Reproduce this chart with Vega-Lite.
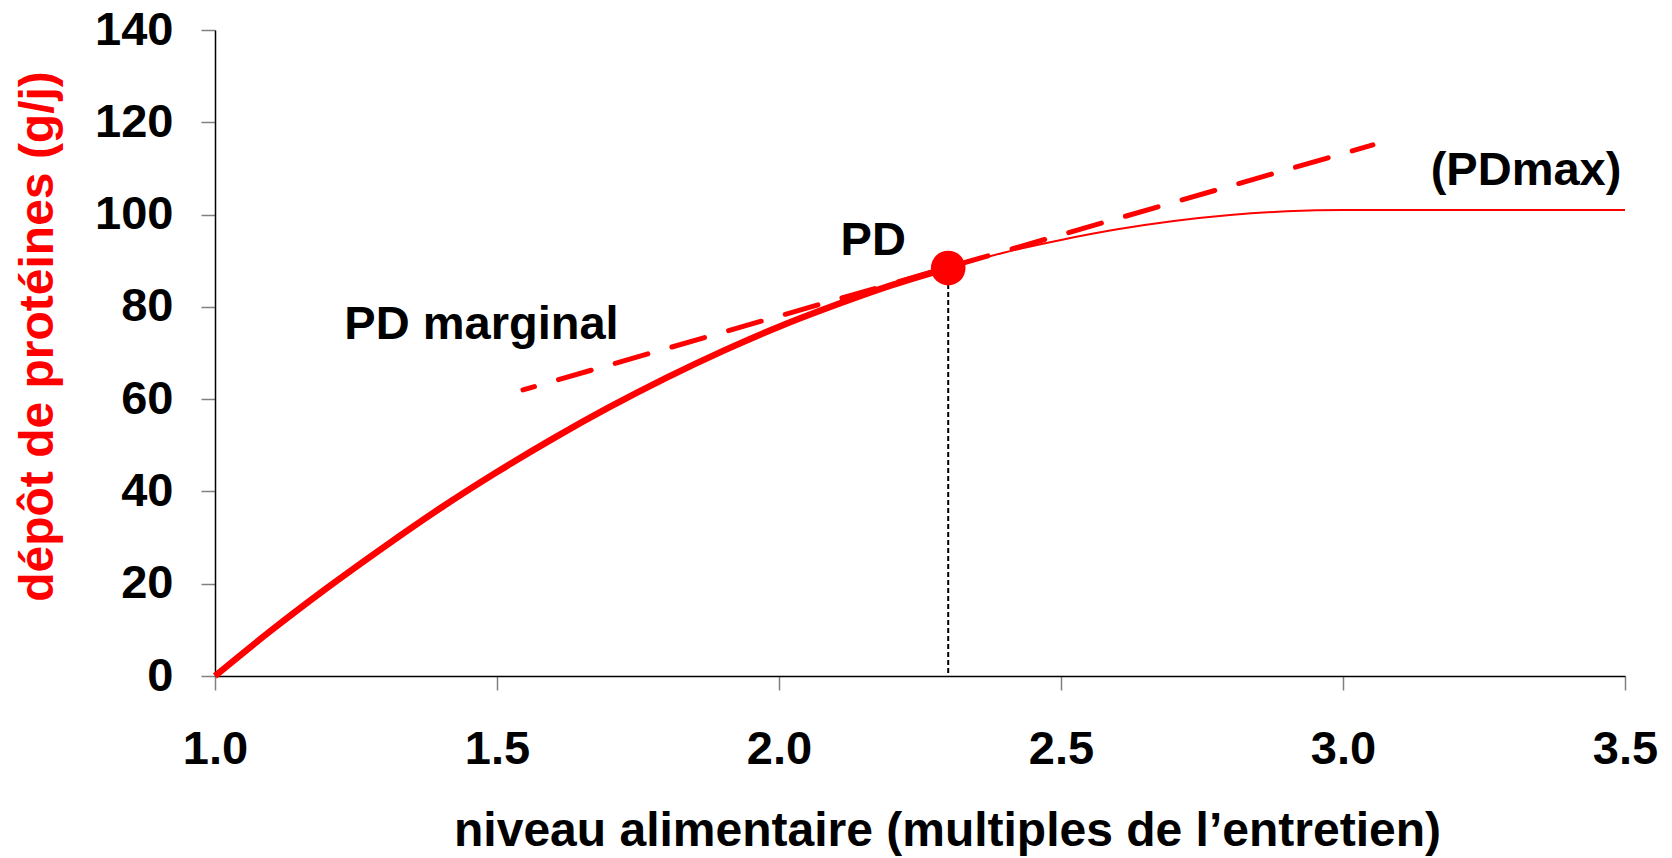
{
  "$schema": "https://vega.github.io/schema/vega-lite/v6.json",
  "autosize": {"type": "none"},
  "padding": {"left": 215, "top": 30, "right": 47, "bottom": 182},
  "width": 1410,
  "height": 646,
  "background": "white",
  "config": {
    "view": {"stroke": null},
    "font": "Liberation Sans",
    "axis": {
      "grid": false,
      "labelFlush": false,
      "labelOverlap": false,
      "domainColor": "#000000",
      "domainWidth": 1.5,
      "tickColor": "#808080",
      "tickWidth": 1.5,
      "tickSize": 14,
      "labelFont": "Liberation Sans",
      "labelFontWeight": "bold",
      "labelFontSize": 47,
      "labelColor": "#000000",
      "titleFont": "Liberation Sans",
      "titleFontWeight": "bold",
      "titleFontSize": 48
    }
  },
  "datasets": {
    "thick": [
      {"x": 1.0, "y": 0},
      {"x": 1.1, "y": 9.9},
      {"x": 1.2, "y": 19.2},
      {"x": 1.3, "y": 28.0},
      {"x": 1.4, "y": 36.4},
      {"x": 1.5, "y": 44.2},
      {"x": 1.6, "y": 51.5},
      {"x": 1.7, "y": 58.3},
      {"x": 1.8, "y": 64.6},
      {"x": 1.9, "y": 70.4},
      {"x": 2.0, "y": 75.7},
      {"x": 2.1, "y": 80.4},
      {"x": 2.2, "y": 84.7},
      {"x": 2.3, "y": 88.4}
    ],
    "thin": [
      {"x": 2.3, "y": 88.4},
      {"x": 2.4, "y": 91.8},
      {"x": 2.5, "y": 94.5},
      {"x": 2.6, "y": 96.8},
      {"x": 2.7, "y": 98.6},
      {"x": 2.8, "y": 99.9},
      {"x": 2.9, "y": 100.7},
      {"x": 3.0, "y": 101.0},
      {"x": 3.1, "y": 101.0},
      {"x": 3.5, "y": 101.0}
    ],
    "tangent": [
      {"x": 1.546, "y": 62.0},
      {"x": 3.053, "y": 115.1}
    ],
    "point": [
      {"x": 2.3, "y": 88.4, "y0": 0}
    ],
    "labels": [
      {"x": 1.4725, "y": 73.0, "label": "PD marginal"},
      {"x": 2.167, "y": 91.2, "label": "PD"},
      {"x": 3.3245, "y": 106.4, "label": "(PDmax)"}
    ]
  },
  "encoding": {
    "x": {
      "field": "x",
      "type": "quantitative",
      "scale": {"domain": [1, 3.5], "nice": false, "zero": false},
      "axis": {
        "title": "niveau alimentaire (multiples de l’entretien)",
        "values": [1, 1.5, 2, 2.5, 3, 3.5],
        "format": ".1f",
        "labelPadding": 36,
        "labelFlush": false,
        "titleColor": "#000000",
        "titleAlign": "center",
        "titleBaseline": "alphabetic",
        "titleX": 732,
        "titleY": 169
      }
    },
    "y": {
      "field": "y",
      "type": "quantitative",
      "scale": {"domain": [0, 140], "nice": false},
      "axis": {
        "title": "dépôt de protéines (g/j)",
        "values": [0, 20, 40, 60, 80, 100, 120, 140],
        "labelPadding": 28,
        "labelFlush": false,
        "titleColor": "#FF0000",
        "titleAngle": -90,
        "titleAlign": "center",
        "titleBaseline": "alphabetic",
        "titleX": -163,
        "titleY": 306
      }
    }
  },
  "layer": [
    {
      "data": {"name": "point"},
      "mark": {"type": "rule", "color": "#000000", "strokeWidth": 2, "strokeDash": [5, 3]},
      "encoding": {"y2": {"field": "y0"}}
    },
    {
      "data": {"name": "thin"},
      "mark": {"type": "line", "color": "#FF0000", "strokeWidth": 2, "interpolate": "monotone"}
    },
    {
      "data": {"name": "thick"},
      "mark": {"type": "line", "color": "#FF0000", "strokeWidth": 6.5, "interpolate": "monotone"}
    },
    {
      "data": {"name": "tangent"},
      "mark": {"type": "line", "color": "#FF0000", "strokeWidth": 5, "strokeCap": "round", "strokeDash": [34, 25], "strokeDashOffset": 22}
    },
    {
      "data": {"name": "point"},
      "mark": {"type": "circle", "color": "#FF0000", "opacity": 1, "size": 1200}
    },
    {
      "data": {"name": "labels"},
      "mark": {"type": "text", "font": "Liberation Sans", "fontWeight": "bold", "fontSize": 47, "color": "#000000", "align": "center", "baseline": "alphabetic"},
      "encoding": {"text": {"field": "label"}}
    }
  ]
}
